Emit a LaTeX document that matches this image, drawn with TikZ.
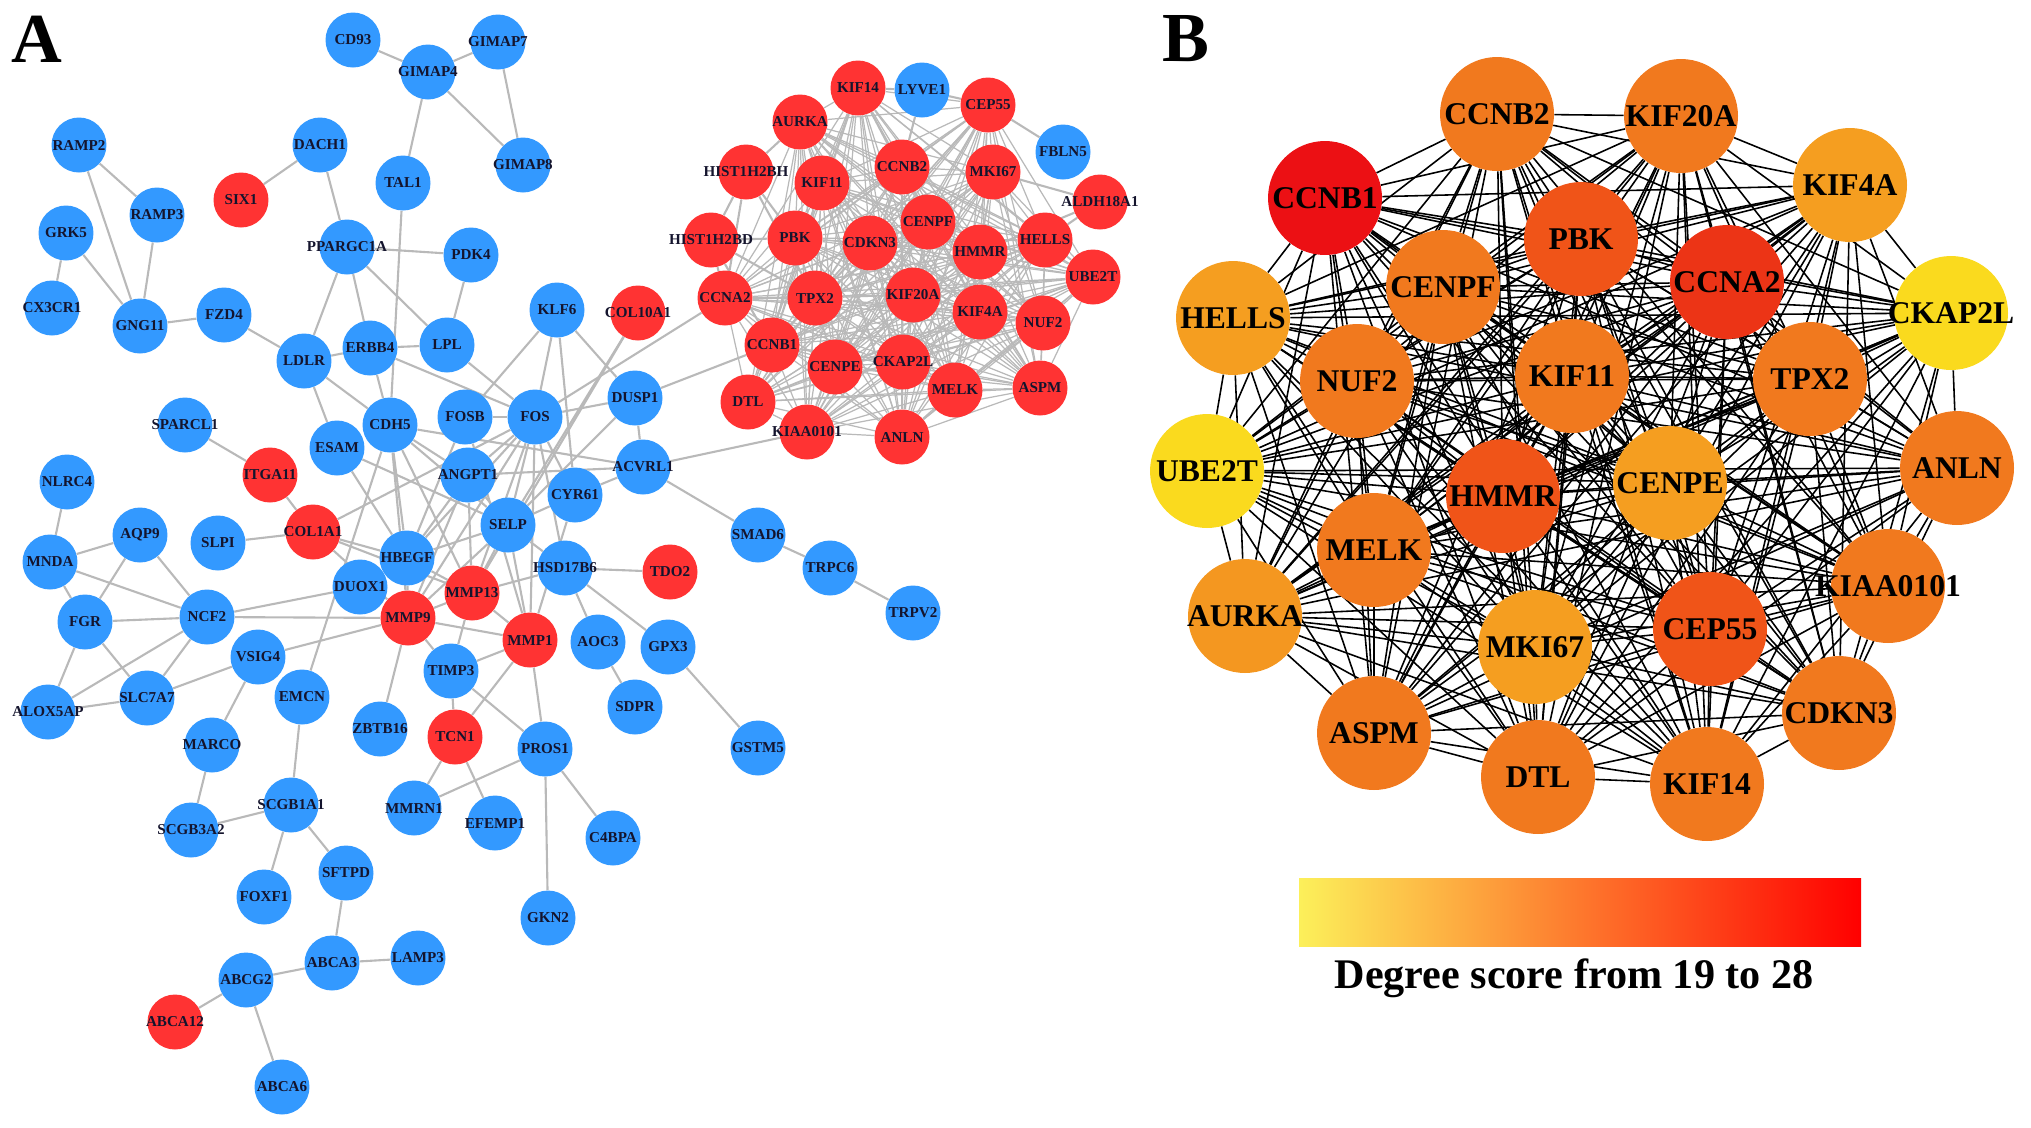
\documentclass[tikz,border=0pt]{standalone}
\usepackage{fontspec}
\setmainfont{Liberation Serif}
\usetikzlibrary{backgrounds}

\definecolor{ablue}{RGB}{51,153,255}
\definecolor{ared}{RGB}{255,51,51}
\definecolor{alabel}{RGB}{20,20,45}
\definecolor{aedge}{RGB}{185,185,185}
\definecolor{bred}{RGB}{236,16,20}
\definecolor{bredorange}{RGB}{236,52,22}
\definecolor{bdeep}{RGB}{240,84,24}
\definecolor{borange}{RGB}{241,121,30}
\definecolor{blight}{RGB}{245,158,32}
\definecolor{byellow}{RGB}{250,218,30}
\definecolor{baryellow}{RGB}{252,240,90}
\definecolor{barorange}{RGB}{247,150,55}
\definecolor{barred}{RGB}{255,0,0}

\begin{document}
\begin{tikzpicture}[
        x=0.02cm, y=-0.02cm,
        alab/.style={font=\fontsize{8.6}{9}\selectfont\bfseries, text=alabel, inner sep=0pt},
        blab/.style={font=\fontsize{18}{18}\selectfont\bfseries, text=black, inner sep=0pt},
        gene/.style={circle, minimum size=1.1cm, inner sep=0pt, draw=none},
        dn/.style={gene, fill=ablue, label={[alab]center:#1}},
        up/.style={gene, fill=ared, label={[alab]center:#1}},
        hub/.style={circle, minimum size=2.28cm, inner sep=0pt, draw=none, label={[blab]center:#1}},
        alink/.style={draw=aedge, line width=1.2pt},
        clink/.style={draw=aedge, line width=0.7pt},
        blink/.style={draw=black, line width=0.9pt},
        panel/.style={font=\fontsize{40}{40}\selectfont\bfseries, inner sep=0pt}
    ]
    \useasboundingbox (0,0) rectangle (2031,1127);

    \node[panel] (labA) at (37,39) {A};
    \node[panel] (labB) at (1186,39) {B};

    % panel A, blue genes
    \node[dn=CD93] (aCD93) at (353,40) {};
    \node[dn=GIMAP4] (aGIMAP4) at (428,72) {};
    \node[dn=GIMAP7] (aGIMAP7) at (498,42) {};
    \node[dn=GIMAP8] (aGIMAP8) at (523,165) {};
    \node[dn=RAMP2] (aRAMP2) at (79,145) {};
    \node[dn=DACH1] (aDACH1) at (320,145) {};
    \node[dn=TAL1] (aTAL1) at (403,183) {};
    \node[dn=RAMP3] (aRAMP3) at (157,215) {};
    \node[dn=GRK5] (aGRK5) at (66,233) {};
    \node[dn=PPARGC1A] (aPPARGC1A) at (347,247) {};
    \node[dn=PDK4] (aPDK4) at (471,255) {};
    \node[dn=CX3CR1] (aCX3CR1) at (52,308) {};
    \node[dn=GNG11] (aGNG11) at (140,326) {};
    \node[dn=FZD4] (aFZD4) at (224,315) {};
    \node[dn=LDLR] (aLDLR) at (304,361) {};
    \node[dn=ERBB4] (aERBB4) at (370,348) {};
    \node[dn=LPL] (aLPL) at (447,345) {};
    \node[dn=KLF6] (aKLF6) at (557,310) {};
    \node[dn=SPARCL1] (aSPARCL1) at (185,425) {};
    \node[dn=CDH5] (aCDH5) at (390,425) {};
    \node[dn=ESAM] (aESAM) at (337,448) {};
    \node[dn=FOSB] (aFOSB) at (465,417) {};
    \node[dn=FOS] (aFOS) at (535,417) {};
    \node[dn=DUSP1] (aDUSP1) at (635,398) {};
    \node[dn=NLRC4] (aNLRC4) at (67,482) {};
    \node[dn=ANGPT1] (aANGPT1) at (468,475) {};
    \node[dn=ACVRL1] (aACVRL1) at (643,467) {};
    \node[dn=CYR61] (aCYR61) at (575,495) {};
    \node[dn=SELP] (aSELP) at (508,525) {};
    \node[dn=AQP9] (aAQP9) at (140,535) {};
    \node[dn=SLPI] (aSLPI) at (218,543) {};
    \node[dn=MNDA] (aMNDA) at (50,562) {};
    \node[dn=HBEGF] (aHBEGF) at (407,558) {};
    \node[dn=HSD17B6] (aHSD17B6) at (565,568) {};
    \node[dn=DUOX1] (aDUOX1) at (360,587) {};
    \node[dn=SMAD6] (aSMAD6) at (758,535) {};
    \node[dn=TRPC6] (aTRPC6) at (830,568) {};
    \node[dn=TRPV2] (aTRPV2) at (913,613) {};
    \node[dn=FGR] (aFGR) at (85,622) {};
    \node[dn=NCF2] (aNCF2) at (207,617) {};
    \node[dn=VSIG4] (aVSIG4) at (258,657) {};
    \node[dn=AOC3] (aAOC3) at (598,642) {};
    \node[dn=GPX3] (aGPX3) at (668,647) {};
    \node[dn=TIMP3] (aTIMP3) at (451,671) {};
    \node[dn=ALOX5AP] (aALOX5AP) at (48,712) {};
    \node[dn=SLC7A7] (aSLC7A7) at (147,698) {};
    \node[dn=EMCN] (aEMCN) at (302,697) {};
    \node[dn=SDPR] (aSDPR) at (635,707) {};
    \node[dn=ZBTB16] (aZBTB16) at (380,729) {};
    \node[dn=MARCO] (aMARCO) at (212,745) {};
    \node[dn=PROS1] (aPROS1) at (545,749) {};
    \node[dn=GSTM5] (aGSTM5) at (758,748) {};
    \node[dn=SCGB1A1] (aSCGB1A1) at (291,805) {};
    \node[dn=MMRN1] (aMMRN1) at (414,808) {};
    \node[dn=SCGB3A2] (aSCGB3A2) at (191,830) {};
    \node[dn=EFEMP1] (aEFEMP1) at (495,823) {};
    \node[dn=C4BPA] (aC4BPA) at (613,838) {};
    \node[dn=SFTPD] (aSFTPD) at (346,873) {};
    \node[dn=FOXF1] (aFOXF1) at (264,897) {};
    \node[dn=GKN2] (aGKN2) at (548,918) {};
    \node[dn=ABCA3] (aABCA3) at (332,963) {};
    \node[dn=LAMP3] (aLAMP3) at (418,958) {};
    \node[dn=ABCG2] (aABCG2) at (246,980) {};
    \node[dn=ABCA6] (aABCA6) at (282,1087) {};
    \node[dn=LYVE1] (aLYVE1) at (922,90) {};
    \node[dn=FBLN5] (aFBLN5) at (1063,152) {};

    % panel A, red genes
    \node[up=SIX1] (aSIX1) at (241,200) {};
    \node[up=COL10A1] (aCOL10A1) at (638,313) {};
    \node[up=ITGA11] (aITGA11) at (270,475) {};
    \node[up=COL1A1] (aCOL1A1) at (313,532) {};
    \node[up=TDO2] (aTDO2) at (670,572) {};
    \node[up=MMP13] (aMMP13) at (472,593) {};
    \node[up=MMP9] (aMMP9) at (408,618) {};
    \node[up=MMP1] (aMMP1) at (530,640) {};
    \node[up=TCN1] (aTCN1) at (455,737) {};
    \node[up=ABCA12] (aABCA12) at (175,1022) {};
    \node[up=KIF14] (aKIF14) at (858,88) {};
    \node[up=CEP55] (aCEP55) at (988,105) {};
    \node[up=AURKA] (aAURKA) at (800,122) {};
    \node[up=HIST1H2BH] (aHIST1H2BH) at (746,172) {};
    \node[up=KIF11] (aKIF11) at (822,183) {};
    \node[up=CCNB2] (aCCNB2) at (902,167) {};
    \node[up=MKI67] (aMKI67) at (993,172) {};
    \node[up=ALDH18A1] (aALDH18A1) at (1100,202) {};
    \node[up=HIST1H2BD] (aHIST1H2BD) at (711,240) {};
    \node[up=PBK] (aPBK) at (795,238) {};
    \node[up=CDKN3] (aCDKN3) at (870,243) {};
    \node[up=CENPF] (aCENPF) at (928,222) {};
    \node[up=HMMR] (aHMMR) at (980,252) {};
    \node[up=HELLS] (aHELLS) at (1045,240) {};
    \node[up=UBE2T] (aUBE2T) at (1093,277) {};
    \node[up=CCNA2] (aCCNA2) at (725,298) {};
    \node[up=TPX2] (aTPX2) at (815,298) {};
    \node[up=KIF20A] (aKIF20A) at (913,295) {};
    \node[up=KIF4A] (aKIF4A) at (980,312) {};
    \node[up=NUF2] (aNUF2) at (1043,323) {};
    \node[up=CCNB1] (aCCNB1) at (772,345) {};
    \node[up=CENPE] (aCENPE) at (835,367) {};
    \node[up=CKAP2L] (aCKAP2L) at (903,362) {};
    \node[up=MELK] (aMELK) at (955,390) {};
    \node[up=ASPM] (aASPM) at (1040,388) {};
    \node[up=DTL] (aDTL) at (748,402) {};
    \node[up=KIAA0101] (aKIAA0101) at (807,432) {};
    \node[up=ANLN] (aANLN) at (902,437) {};

    % panel B, hub genes
    \node[hub=CCNB2, fill=borange] (bCCNB2) at (1497,114) {};
    \node[hub=KIF20A, fill=borange] (bKIF20A) at (1681,116) {};
    \node[hub=CCNB1, fill=bred] (bCCNB1) at (1325,198) {};
    \node[hub=KIF4A, fill=blight] (bKIF4A) at (1850,185) {};
    \node[hub=PBK, fill=bdeep] (bPBK) at (1581,239) {};
    \node[hub=CCNA2, fill=bredorange] (bCCNA2) at (1727,282) {};
    \node[hub=CENPF, fill=borange] (bCENPF) at (1443,287) {};
    \node[hub=HELLS, fill=blight] (bHELLS) at (1233,318) {};
    \node[hub=CKAP2L, fill=byellow] (bCKAP2L) at (1951,313) {};
    \node[hub=NUF2, fill=borange] (bNUF2) at (1357,381) {};
    \node[hub=KIF11, fill=borange] (bKIF11) at (1572,376) {};
    \node[hub=TPX2, fill=borange] (bTPX2) at (1810,379) {};
    \node[hub=UBE2T, fill=byellow] (bUBE2T) at (1207,471) {};
    \node[hub=HMMR, fill=bdeep] (bHMMR) at (1503,496) {};
    \node[hub=CENPE, fill=blight] (bCENPE) at (1670,483) {};
    \node[hub=ANLN, fill=borange] (bANLN) at (1957,468) {};
    \node[hub=MELK, fill=borange] (bMELK) at (1374,550) {};
    \node[hub=KIAA0101, fill=borange] (bKIAA0101) at (1888,586) {};
    \node[hub=AURKA, fill=blight!80!borange] (bAURKA) at (1245,616) {};
    \node[hub=MKI67, fill=blight] (bMKI67) at (1535,647) {};
    \node[hub=CEP55, fill=bdeep] (bCEP55) at (1710,629) {};
    \node[hub=CDKN3, fill=borange] (bCDKN3) at (1839,713) {};
    \node[hub=ASPM, fill=borange] (bASPM) at (1374,733) {};
    \node[hub=DTL, fill=borange] (bDTL) at (1538,777) {};
    \node[hub=KIF14, fill=borange] (bKIF14) at (1707,784) {};

    % colour key
    \shade[left color=baryellow, middle color=barorange, right color=barred] (1299,878) rectangle (1861,946);
    \node[font=\fontsize{24}{24}\selectfont\bfseries] (keytext) at (1574,978) {Degree score from 19 to 28};

    \def\hublist{CCNB1,CCNA2,HMMR,CEP55,PBK,CCNB2,KIF20A,CENPF,NUF2,KIF11,TPX2,ANLN,MELK,KIAA0101,ASPM,DTL,KIF14,CDKN3,KIF4A,HELLS,AURKA,CENPE,MKI67,CKAP2L,UBE2T}

    \begin{pgfonlayer}{background}
        % hub cluster, both panels
        \foreach \p [count=\i] in \hublist {
            \foreach \q [count=\j] in \hublist {
                \ifnum\j>\i
                    \draw[clink] (a\p) -- (a\q);
                    \draw[blink] (b\p) -- (b\q);
                \fi
            }
        }
        % rest of panel A
        \foreach \s/\t in {CD93/GIMAP4, GIMAP4/GIMAP7, GIMAP4/GIMAP8, GIMAP7/GIMAP8, GIMAP4/TAL1, TAL1/CDH5,
            RAMP2/RAMP3, RAMP2/GNG11, RAMP3/GNG11, GRK5/CX3CR1, GRK5/GNG11, GNG11/FZD4, FZD4/LDLR,
            SIX1/DACH1, DACH1/PPARGC1A, PPARGC1A/LDLR, PPARGC1A/ERBB4, PPARGC1A/PDK4, PPARGC1A/LPL,
            PDK4/LPL, LDLR/ERBB4, ERBB4/LPL, LDLR/CDH5, LDLR/ESAM, ERBB4/CDH5, ERBB4/FOS, LPL/FOS,
            KLF6/FOSB, KLF6/FOS, KLF6/DUSP1, KLF6/CYR61, COL10A1/SELP, COL10A1/MMP13,
            FOSB/FOS, FOS/DUSP1, FOS/CCNA2, DUSP1/CCNB1, DUSP1/ACVRL1, DUSP1/SELP,
            CDH5/ANGPT1, CDH5/ACVRL1, CDH5/SELP, CDH5/HBEGF, CDH5/MMP9, CDH5/MMP13,
            ESAM/HBEGF, ESAM/SELP, EMCN/CDH5,
            SPARCL1/ITGA11, ITGA11/COL1A1, COL1A1/SLPI, COL1A1/HBEGF, COL1A1/MMP9, COL1A1/FOS, COL1A1/MMP13,
            FOSB/MMP1, FOSB/HBEGF,
            FOS/ANGPT1, FOS/SELP, FOS/HBEGF, FOS/MMP9, FOS/MMP13, FOS/MMP1, FOS/CYR61, FOS/HSD17B6,
            ANGPT1/ACVRL1, ANGPT1/SELP, ANGPT1/HBEGF, ANGPT1/MMP9, ANGPT1/MMP13,
            ACVRL1/CYR61, ACVRL1/SMAD6, ACVRL1/KIAA0101, SMAD6/TRPC6, TRPC6/TRPV2,
            CYR61/SELP, CYR61/MMP1,
            SELP/HBEGF, SELP/MMP13, SELP/MMP9, SELP/MMP1, SELP/HSD17B6,
            HBEGF/MMP13, HBEGF/MMP9,
            HSD17B6/TDO2, HSD17B6/AOC3, HSD17B6/GPX3, HSD17B6/MMP13,
            AOC3/SDPR, GPX3/GSTM5,
            MMP9/MMP13, MMP9/MMP1, MMP9/TIMP3, MMP9/ZBTB16, MMP13/TIMP3, MMP13/MMP1, MMP1/TIMP3,
            MMP1/TCN1, MMP1/PROS1, TIMP3/TCN1, TIMP3/PROS1, TCN1/MMRN1, TCN1/EFEMP1,
            PROS1/MMRN1, PROS1/C4BPA, PROS1/GKN2,
            NCF2/DUOX1, NCF2/MMP9, VSIG4/MMP9,
            MNDA/NLRC4, MNDA/AQP9, MNDA/NCF2, MNDA/FGR, AQP9/NCF2, AQP9/FGR, FGR/NCF2, FGR/SLC7A7,
            FGR/ALOX5AP, NCF2/SLC7A7, NCF2/ALOX5AP, ALOX5AP/SLC7A7, SLC7A7/VSIG4, VSIG4/MARCO,
            MARCO/SCGB3A2, SCGB3A2/SCGB1A1, SCGB1A1/EMCN, SCGB1A1/FOXF1, SCGB1A1/SFTPD,
            SFTPD/ABCA3, ABCA3/LAMP3, ABCA3/ABCG2, ABCG2/ABCA12, ABCG2/ABCA6,
            LYVE1/KIF14, LYVE1/CEP55, LYVE1/CCNB2, FBLN5/CEP55,
            ALDH18A1/HMMR, ALDH18A1/MKI67, ALDH18A1/HELLS,
            HIST1H2BH/HIST1H2BD, HIST1H2BH/CCNA2, HIST1H2BH/PBK, HIST1H2BH/TPX2, HIST1H2BH/AURKA,
            HIST1H2BD/CCNA2, HIST1H2BD/PBK, HIST1H2BD/CCNB1, HIST1H2BD/TPX2}
            \draw[alink] (a\s) -- (a\t);
    \end{pgfonlayer}
\end{tikzpicture}
\end{document}
